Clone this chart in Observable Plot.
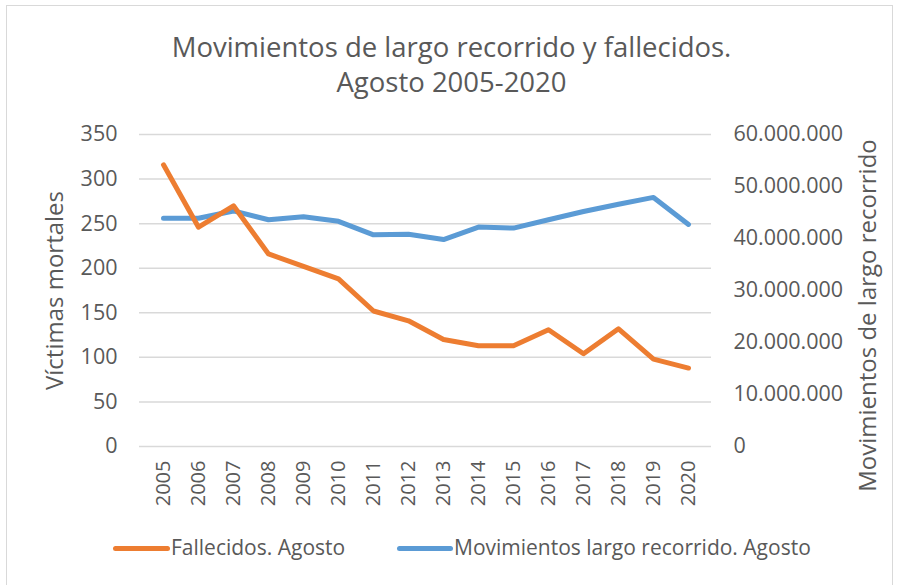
<!DOCTYPE html>
<html><head><meta charset="utf-8">
<script src="https://cdn.jsdelivr.net/npm/d3@7"></script>
<script src="https://cdn.jsdelivr.net/npm/@observablehq/plot@0.6"></script>
<style>
html,body{margin:0;padding:0;background:#fff;}
#wrap{position:relative;width:905px;height:585px;overflow:hidden;font-family:"Open Sans",sans-serif;color:#595959;}
#border{position:absolute;left:6px;top:5px;width:887px;height:590px;border-left:1.5px solid #D9D9D9;border-top:1.5px solid #D9D9D9;border-right:1.5px solid #D9D9D9;box-sizing:border-box;}
.title{position:absolute;left:0;width:903px;text-align:center;font-size:27.5px;line-height:34px;height:34px;color:#595959;white-space:nowrap;}
#chart{position:absolute;left:0;top:0;}
.leg{position:absolute;top:533px;font-size:21px;line-height:28px;color:#595959;white-space:nowrap;}
.sw{position:absolute;height:5px;border-radius:3px;top:546px;}
</style></head>
<body>
<div id="wrap">
  <div id="border"></div>
  <div id="chart"></div>
  <div class="title" style="top:30px">Movimientos de largo recorrido y fallecidos.</div>
  <div class="title" style="top:65px">Agosto 2005-2020</div>
  <div class="sw" style="left:113px;width:57px;background:#ED7D31"></div>
  <div class="leg" style="left:171px">Fallecidos. Agosto</div>
  <div class="sw" style="left:397px;width:56px;background:#5B9BD5"></div>
  <div class="leg" style="left:454px">Movimientos largo recorrido. Agosto</div>
</div>
<script>
const years = ["2005","2006","2007","2008","2009","2010","2011","2012","2013","2014","2015","2016","2017","2018","2019","2020"];
const fallecidos = [316,246,270,216,202,188,152,141,120,113,113,131,104,132,98,88];
const movimientos = [43900000,43900000,45300000,43600000,44200000,43300000,40700000,40800000,39800000,42200000,42000000,43600000,45200000,46600000,47900000,42700000];
const leftTicks = [0,50,100,150,200,250,300,350];
const rightTicks = [0,10000000,20000000,30000000,40000000,50000000,60000000];
const leftMax = 350, rightMax = 60000000;

const toLeft = v => v * leftMax / rightMax;
const es = d3.formatLocale({decimal:",", thousands:".", grouping:[3], currency:["",""]}).format(",");

const dataF = years.map((y,i) => ({year:y, v:fallecidos[i]}));
const dataM = years.map((y,i) => ({year:y, v:toLeft(movimientos[i]), raw:movimientos[i]}));

const plot = Plot.plot({
  width: 905, height: 585,
  marginTop: 134, marginBottom: 139, marginLeft: 139, marginRight: 194,
  style: {fontFamily: '"Open Sans", sans-serif', color: "#595959", background: "transparent", overflow: "visible"},
  x: {type: "point", domain: years, padding: 0.5},
  y: {domain: [0, leftMax]},
  marks: [
    Plot.gridY(leftTicks, {stroke: "#D9D9D9", strokeOpacity: 1, strokeWidth: 1.5}),
    Plot.axisY(leftTicks, {anchor: "left", tickSize: 0, tickPadding: 22, fontSize: 21.5, fill: "#595959", label: null}),
    Plot.axisY(rightTicks.map(toLeft), {anchor: "right", tickSize: 0, tickPadding: 22, fontSize: 21.5, fill: "#595959", label: null,
      tickFormat: d => { const r = Math.round(d * rightMax / leftMax); return r === 0 ? "0" : es(r); }}),
    Plot.axisX({tickRotate: -90, tickSize: 0, tickPadding: 14, fontSize: 20, fill: "#595959", label: null}),
    Plot.line(dataM, {x: "year", y: "v", stroke: "#5B9BD5", strokeWidth: 5, strokeLinecap: "round", strokeLinejoin: "round"}),
    Plot.line(dataF, {x: "year", y: "v", stroke: "#ED7D31", strokeWidth: 5, strokeLinecap: "round", strokeLinejoin: "round"}),
    Plot.text(["Víctimas mortales"], {frameAnchor: "left", textAnchor: "middle", dx: -84, rotate: -90, fontSize: 24, fill: "#595959", text: d => d}),
    Plot.text(["Movimientos de largo recorrido"], {frameAnchor: "right", textAnchor: "middle", dx: 157, dy: 25, rotate: -90, fontSize: 24, fill: "#595959", text: d => d})
  ]
});
document.getElementById("chart").appendChild(plot);
</script>
</body></html>
